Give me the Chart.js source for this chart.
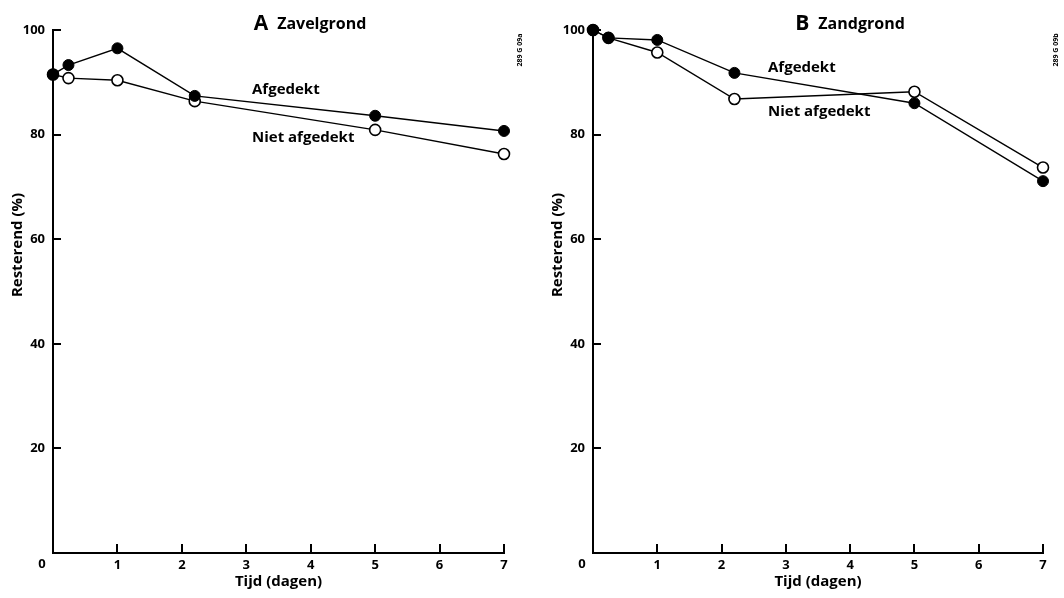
<!DOCTYPE html>
<html>
<head>
<meta charset="utf-8">
<script src="https://cdn.jsdelivr.net/npm/chart.js@4.4.1/dist/chart.umd.min.js"></script>
<style>
html,body{margin:0;padding:0;background:#fff;}
#wrap{position:relative;width:1064px;height:598px;overflow:hidden;}
#cA{position:absolute;left:0;top:0;}
#cB{position:absolute;left:540px;top:0;}
</style>
</head>
<body>
<div id="wrap">
<canvas id="cA" width="540" height="598"></canvas>
<canvas id="cB" width="524" height="598"></canvas>
</div>
<script>
// ---- data ----
const timesA = [0, 0.24, 1, 2.2, 5, 7];
const zavelAfgedekt = [91.5, 93.3, 96.5, 87.4, 83.6, 80.7];
const zavelNietAfgedekt = [91.5, 90.8, 90.4, 86.4, 80.9, 76.3];
const timesB = [0, 0.24, 1, 2.2, 5, 7];
const zandAfgedekt = [100, 98.5, 98.1, 91.8, 86.0, 71.1];
const zandNietAfgedekt = [100, 98.5, 95.7, 86.8, 88.2, 73.7];
const xTicks = [0, 1, 2, 3, 4, 5, 6, 7];
const yTicks = [20, 40, 60, 80, 100];
const seriesNames = ['Afgedekt', 'Niet afgedekt'];
const yTitle = 'Resterend (%)';
const xTitle = 'Tijd (dagen)';

const FONT = '"Open Sans", "DejaVu Sans", sans-serif';

function pts(xs, ys){ return xs.map((x,i)=>({x:x, y:ys[i]})); }

function makeChart(id, xs, cov, unc, cfg){
  const annot = {
    id: 'annot',
    afterDraw(chart){
      const ctx = chart.ctx, xs_ = chart.scales.x, ys_ = chart.scales.y;
      const a = chart.chartArea;
      ctx.save();
      ctx.setLineDash([]);
      ctx.globalAlpha = 1;
      ctx.fillStyle = '#000';
      ctx.strokeStyle = '#000';
      // inward ticks
      ctx.lineWidth = 2;
      ctx.beginPath();
      yTicks.forEach(v=>{
        const py = Math.round(ys_.getPixelForValue(v));
        ctx.moveTo(a.left, py); ctx.lineTo(a.left+8, py);
      });
      xTicks.forEach(v=>{
        if(v===0) return;
        const px = Math.round(xs_.getPixelForValue(v));
        ctx.moveTo(px, a.bottom); ctx.lineTo(px, a.bottom-9);
      });
      ctx.stroke();
      // zero label on x axis (set left of the origin as in the original)
      ctx.font = 'bold 13px ' + FONT;
      ctx.textAlign = 'center';
      ctx.textBaseline = 'middle';
      ctx.fillText(String(xTicks[0]), xs_.getPixelForValue(xTicks[0]) - 11, 564);
      // panel title
      ctx.textBaseline = 'alphabetic';
      ctx.textAlign = 'left';
      ctx.font = 'bold 21px ' + FONT;
      const lw = ctx.measureText(cfg.letter).width;
      ctx.font = 'bold 16px ' + FONT;
      const tw = ctx.measureText(cfg.name).width;
      const total = lw + 9 + tw;
      let tx = cfg.titleX - total/2;
      ctx.font = 'bold 21px ' + FONT;
      ctx.fillText(cfg.letter, tx, 30);
      ctx.font = 'bold 16px ' + FONT;
      ctx.fillText(cfg.name, tx + lw + 9, 29);
      // series labels
      ctx.font = 'bold 15px ' + FONT;
      ctx.textBaseline = 'middle';
      ctx.fillText(seriesNames[0], cfg.lab1[0], cfg.lab1[1]);
      ctx.fillText(seriesNames[1], cfg.lab2[0], cfg.lab2[1]);
      // axis titles
      ctx.textAlign = 'center';
      ctx.font = 'bold 15px ' + FONT;
      ctx.fillText(xTitle, (a.left+a.right)/2, 582);
      ctx.save();
      ctx.translate(cfg.yTitleX, 245);
      ctx.rotate(-Math.PI/2);
      ctx.fillText(yTitle, 0, 0);
      ctx.restore();
      // figure code
      ctx.save();
      ctx.translate(cfg.codeX, 50);
      ctx.rotate(-Math.PI/2);
      ctx.font = 'bold 7px ' + FONT;
      ctx.fillText(cfg.code, 0, 0);
      ctx.restore();
      ctx.restore();
    }
  };
  return new Chart(document.getElementById(id), {
    type: 'scatter',
    data: {
      datasets: [
        { label: seriesNames[0], data: pts(xs, cov), showLine: true, clip: false,
          borderColor:'#000', borderWidth:1.4, backgroundColor:'#000',
          pointRadius:5.5, pointBorderWidth:1, pointBackgroundColor:'#000', pointBorderColor:'#000' },
        { label: seriesNames[1], data: pts(xs, unc), showLine: true, clip: false,
          borderColor:'#000', borderWidth:1.4, backgroundColor:'#fff',
          pointRadius:5.5, pointBorderWidth:1.6, pointBackgroundColor:'#fff', pointBorderColor:'#000' }
      ]
    },
    options: {
      responsive:false, animation:false,
      layout:{ padding:{ top:30, right:cfg.padRight, left:0, bottom:0 } },
      plugins:{ legend:{display:false}, tooltip:{enabled:false}, title:{display:false} },
      scales:{
        x:{ type:'linear', min:0, max:7,
            afterBuildTicks:(s)=>{ s.ticks = xTicks.map(v=>({value:v})); },
            afterFit:(s)=>{ s.height = 45; },
            grid:{ display:false },
            border:{ display:true, color:'#000', width:2 },
            ticks:{ color:'#000', padding:-4, font:{family:FONT, size:13, weight:'bold'}, maxRotation:0,
                    callback:(v)=> v===0 ? '' : String(v) } },
        y:{ type:'linear', min:0, max:100,
            afterBuildTicks:(s)=>{ s.ticks = [0].concat(yTicks).map(v=>({value:v})); },
            afterFit:(s)=>{ s.width = 53; },
            grid:{ display:false },
            border:{ display:true, color:'#000', width:2 },
            ticks:{ color:'#000', padding:0, font:{family:FONT, size:13, weight:'bold'},
                    callback:(v)=> v===0 ? '' : String(v) } }
      }
    },
    plugins:[annot]
  });
}

makeChart('cA', timesA, zavelAfgedekt, zavelNietAfgedekt, {
  padRight: 36, letter:'A', name:'Zavelgrond', titleX: 310,
  lab1:[252, 90], lab2:[252, 138], yTitleX: 18, codeX: 520, code:'289 G 09a'
});
makeChart('cB', timesB, zandAfgedekt, zandNietAfgedekt, {
  padRight: 21, letter:'B', name:'Zandgrond', titleX: 310,
  lab1:[228, 68], lab2:[228, 112], yTitleX: 18, codeX: 516, code:'289 G 09b'
});
</script>
</body>
</html>
